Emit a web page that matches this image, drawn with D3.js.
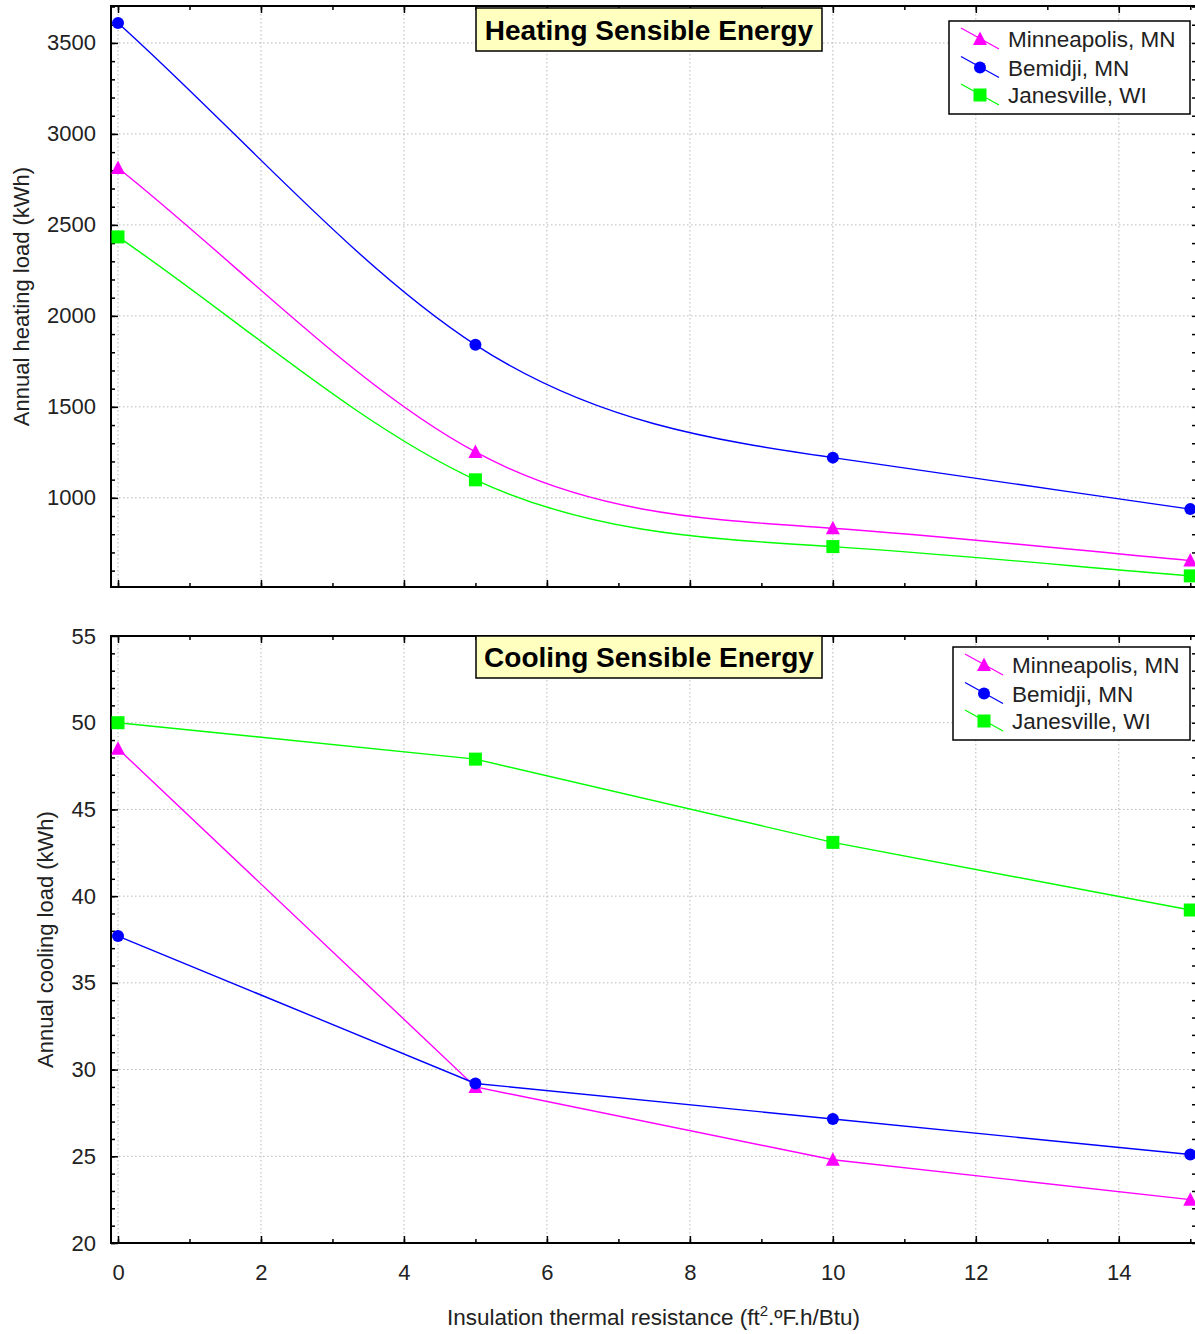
<!DOCTYPE html>
<html>
<head>
<meta charset="utf-8">
<script src="https://cdn.jsdelivr.net/npm/d3@7"></script>
<style>
  html, body { margin: 0; padding: 0; background: #fff; }
  svg { display: block; font-family: "Liberation Sans", Arial, sans-serif; }
</style>
</head>
<body>
<svg id="chart" width="1195" height="1334"></svg>
<script>
// ---------- DATA ----------
const xValues = [0, 5, 10, 15];
const seriesNames = ["Minneapolis, MN", "Bemidji, MN", "Janesville, WI"];
const seriesColors = ["#ff00ff", "#0000ff", "#00ff00"];
const seriesMarkers = ["triangle", "circle", "square"];

const heatingMinneapolis = [2813, 1252, 833, 655];
const heatingBemidji     = [3610, 1841, 1221, 938];
const heatingJanesville  = [2434, 1099, 732, 571];

const coolingMinneapolis = [48.5, 29.0, 24.8, 22.5];
const coolingBemidji     = [37.7, 29.2, 27.15, 25.1];
const coolingJanesville  = [50.0, 47.9, 43.1, 39.2];

const xTicks = [0, 2, 4, 6, 8, 10, 12, 14];
const heatingYTicks = [1000, 1500, 2000, 2500, 3000, 3500];
const coolingYTicks = [20, 25, 30, 35, 40, 45, 50, 55];

const heatingTitle = "Heating Sensible Energy";
const coolingTitle = "Cooling Sensible Energy";
const heatingYLabel = "Annual heating load (kWh)";
const coolingYLabel = "Annual cooling load (kWh)";

// ---------- CURVE: cubic spline clamped to the end-segment slopes (d3 curve factory) ----------
function curveClampedSpline(context) {
  let xs, ys;
  return {
    areaStart() {}, areaEnd() {},
    lineStart() { xs = []; ys = []; },
    point(px, py) { xs.push(+px); ys.push(+py); },
    lineEnd() {
      const n = xs.length;
      if (!n) return;
      context.moveTo(xs[0], ys[0]);
      if (n < 3) { for (let i = 1; i < n; i++) context.lineTo(xs[i], ys[i]); return; }
      const h = [], s = [];
      for (let i = 0; i < n - 1; i++) { h.push(xs[i + 1] - xs[i]); s.push((ys[i + 1] - ys[i]) / h[i]); }
      // tridiagonal system for derivatives
      const a = new Array(n).fill(0), b = new Array(n).fill(0), c = new Array(n).fill(0), r = new Array(n).fill(0);
      b[0] = 1; r[0] = s[0];
      b[n - 1] = 1; r[n - 1] = s[n - 2];
      for (let i = 1; i < n - 1; i++) {
        a[i] = h[i]; b[i] = 2 * (h[i - 1] + h[i]); c[i] = h[i - 1];
        r[i] = 3 * (h[i] * s[i - 1] + h[i - 1] * s[i]);
      }
      for (let i = 1; i < n; i++) {
        const m = a[i] / b[i - 1];
        b[i] -= m * c[i - 1]; r[i] -= m * r[i - 1];
      }
      const d = new Array(n);
      d[n - 1] = r[n - 1] / b[n - 1];
      for (let i = n - 2; i >= 0; i--) d[i] = (r[i] - c[i] * d[i + 1]) / b[i];
      for (let i = 0; i < n - 1; i++) {
        const k = h[i] / 3;
        context.bezierCurveTo(xs[i] + k, ys[i] + d[i] * k, xs[i + 1] - k, ys[i + 1] - d[i + 1] * k, xs[i + 1], ys[i + 1]);
      }
    }
  };
}

// ---------- LAYOUT ----------
const svg = d3.select("#chart");
const left = 111, right = 1196;
const x = d3.scaleLinear().domain([-0.098, 15.08]).range([left, right]);

const panels = [
  {
    top: 6, bottom: 587, domain: [510, 3703], ticks: heatingYTicks, minorStep: 100,
    series: [heatingMinneapolis, heatingBemidji, heatingJanesville],
    curve: curveClampedSpline, title: heatingTitle, titleBox: [476, 8, 346, 43],
    legend: [949, 21, 241, 93], ylabel: heatingYLabel, ylabelX: 21, showX: false
  },
  {
    top: 636, bottom: 1243, domain: [20, 55], ticks: coolingYTicks, minorStep: 1,
    series: [coolingMinneapolis, coolingBemidji, coolingJanesville],
    curve: d3.curveLinear, title: coolingTitle, titleBox: [476, 636, 346, 42],
    legend: [953, 647, 237, 93], ylabel: coolingYLabel, ylabelX: 45, showX: true
  }
];

function drawMarker(g, type, cx, cy, color) {
  if (type === "triangle") {
    g.append("path").attr("d", `M${cx},${cy - 7.5}L${cx + 7},${cy + 6}L${cx - 7},${cy + 6}Z`).attr("fill", color);
  } else if (type === "circle") {
    g.append("circle").attr("cx", cx).attr("cy", cy).attr("r", 6).attr("fill", color);
  } else {
    g.append("rect").attr("x", cx - 6.5).attr("y", cy - 6.5).attr("width", 13).attr("height", 13).attr("fill", color);
  }
}

panels.forEach(p => {
  const y = d3.scaleLinear().domain(p.domain).range([p.bottom, p.top]);
  const g = svg.append("g");
  const w = right - left, h = p.bottom - p.top;

  // gridlines
  const grid = g.append("g").attr("stroke", "#b8b8b8").attr("stroke-width", 1).attr("stroke-dasharray", "1.5,2.5");
  xTicks.forEach(t => grid.append("line").attr("x1", x(t)).attr("x2", x(t)).attr("y1", p.top).attr("y2", p.bottom));
  p.ticks.forEach(t => grid.append("line").attr("x1", left).attr("x2", right).attr("y1", y(t)).attr("y2", y(t)));

  // minor ticks
  const yMinor = d3.range(Math.ceil(p.domain[0] / p.minorStep) * p.minorStep, p.domain[1], p.minorStep);
  const xMinor = d3.range(0, 16, 1);

  const axL = g.append("g").attr("transform", `translate(${left},0)`)
    .call(d3.axisLeft(y).tickValues(yMinor).tickSize(-4).tickFormat(""));
  const axR = g.append("g").attr("transform", `translate(${right},0)`)
    .call(d3.axisRight(y).tickValues(yMinor).tickSize(-4).tickFormat(""));
  const axT = g.append("g").attr("transform", `translate(0,${p.top})`)
    .call(d3.axisTop(x).tickValues(xMinor).tickSize(-4).tickFormat(""));
  const axB = g.append("g").attr("transform", `translate(0,${p.bottom})`)
    .call(d3.axisBottom(x).tickValues(xMinor).tickSize(-4).tickFormat(""));
  [axL, axR, axT, axB].forEach(a => { a.select(".domain").remove(); a.selectAll("line").attr("stroke", "#000").attr("stroke-width", 1.5); });

  // major ticks with labels
  const yAxis = g.append("g").attr("transform", `translate(${left},0)`)
    .call(d3.axisLeft(y).tickValues(p.ticks).tickSize(-7).tickPadding(15).tickFormat(d3.format("d")));
  yAxis.select(".domain").remove();
  yAxis.selectAll("line").attr("stroke", "#000").attr("stroke-width", 1.5);
  yAxis.selectAll("text").attr("font-size", 22).attr("fill", "#222").attr("font-family", "Liberation Sans, Arial, sans-serif");

  const xAxis = g.append("g").attr("transform", `translate(0,${p.bottom})`)
    .call(d3.axisBottom(x).tickValues(xTicks).tickSize(-7).tickPadding(21).tickFormat(p.showX ? d3.format("d") : ""));
  xAxis.select(".domain").remove();
  xAxis.selectAll("line").attr("stroke", "#000").attr("stroke-width", 1.5);
  xAxis.selectAll("text").attr("font-size", 22).attr("fill", "#222").attr("font-family", "Liberation Sans, Arial, sans-serif");

  const xAxisTop = g.append("g").attr("transform", `translate(0,${p.top})`)
    .call(d3.axisTop(x).tickValues(xTicks).tickSize(-7).tickFormat(""));
  xAxisTop.select(".domain").remove();
  xAxisTop.selectAll("line").attr("stroke", "#000").attr("stroke-width", 1.5);

  // frame
  g.append("rect").attr("x", left).attr("y", p.top).attr("width", w).attr("height", h)
    .attr("fill", "none").attr("stroke", "#000").attr("stroke-width", 2);

  // series lines
  const line = d3.line().x((d, i) => x(xValues[i])).y(d => y(d)).curve(p.curve);
  p.series.forEach((s, si) => {
    g.append("path").datum(s).attr("d", line).attr("fill", "none")
      .attr("stroke", seriesColors[si]).attr("stroke-width", 1.4);
  });
  p.series.forEach((s, si) => {
    s.forEach((v, i) => drawMarker(g, seriesMarkers[si], x(xValues[i]), y(v), seriesColors[si]));
  });

  // title box
  const [tx, ty, tw, th] = p.titleBox;
  g.append("rect").attr("x", tx).attr("y", ty).attr("width", tw).attr("height", th)
    .attr("fill", "#ffffc0").attr("stroke", "#000").attr("stroke-width", 1.5);
  g.append("text").attr("x", tx + tw / 2).attr("y", ty + th / 2).attr("dy", "0.36em")
    .attr("text-anchor", "middle").attr("font-size", 28).attr("font-weight", "bold").attr("fill", "#000")
    .text(p.title);

  // legend
  const [lx, ly, lw, lh] = p.legend;
  const lg = g.append("g");
  lg.append("rect").attr("x", lx).attr("y", ly).attr("width", lw).attr("height", lh)
    .attr("fill", "#fff").attr("stroke", "#000").attr("stroke-width", 1.5);
  const rowY = [18, 46.5, 74];
  seriesNames.forEach((name, si) => {
    const cy = ly + rowY[si];
    const x0 = lx + 12;
    lg.append("line").attr("x1", x0).attr("y1", cy - 11).attr("x2", x0 + 38).attr("y2", cy + 10)
      .attr("stroke", seriesColors[si]).attr("stroke-width", 1.3);
    drawMarker(lg, seriesMarkers[si], x0 + 19, cy, seriesColors[si]);
    lg.append("text").attr("x", lx + 59).attr("y", cy).attr("dy", "0.36em")
      .attr("font-size", 22.5).attr("fill", "#222").text(name);
  });

  // y axis label
  g.append("text").attr("transform", `translate(${p.ylabelX},${(p.top + p.bottom) / 2}) rotate(-90)`)
    .attr("dy", "0.36em").attr("text-anchor", "middle").attr("font-size", 22).attr("fill", "#222")
    .text(p.ylabel);
});

// x axis title
const xt = svg.append("text").attr("x", (left + right) / 2).attr("y", 1325)
  .attr("text-anchor", "middle").attr("font-size", 22.5).attr("fill", "#222");
xt.append("tspan").text("Insulation thermal resistance (ft");
xt.append("tspan").attr("font-size", 15).attr("dy", -9).text("2");
xt.append("tspan").attr("dy", 9).text(".ºF.h/Btu)");
</script>
</body>
</html>
